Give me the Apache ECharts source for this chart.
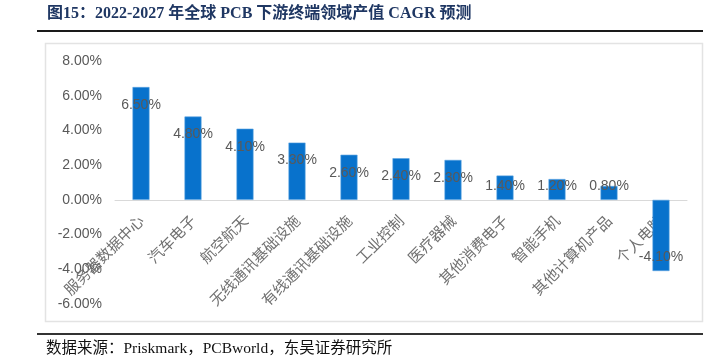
<!DOCTYPE html>
<html><head><meta charset="utf-8">
<script src="https://cdn.jsdelivr.net/npm/echarts@6/dist/echarts.min.js"></script>
<style>html,body{margin:0;padding:0;background:#fff}#c{width:719px;height:360px}</style>
</head><body><div id="c"></div>
<script>
const titleText = '图15：2022-2027 年全球 PCB 下游终端领域产值 CAGR 预测';
const sourceText = '数据来源：Priskmark，PCBworld，东吴证券研究所';
const categories = ['服务器数据中心','汽车电子','航空航天','无线通讯基础设施','有线通讯基础设施','工业控制','医疗器械','其他消费电子','智能手机','其他计算机产品','个人电脑'];
const values = [6.5, 4.8, 4.1, 3.3, 2.6, 2.4, 2.3, 1.4, 1.2, 0.8, -4.1];
const yTicks = [-6, -4, -2, 0, 2, 4, 6, 8];

const W = 719, H = 360;
const grid = {left:115, right:32, top:61, bottom:56};
const yMin = yTicks[0], yMax = yTicks[yTicks.length - 1];
const plotH = H - grid.top - grid.bottom;
// move the category axis (line + labels) up to the zero value of the value axis
const zeroOffset = -(0 - yMin) / (yMax - yMin) * plotH;

const chart = echarts.init(document.getElementById('c'), null, {renderer:'canvas'});
const data = values.map(v => {
  let label;
  if (v < 0) label = {position:'insideBottom', distance:7};
  else if (v < 1.5) label = {position:'insideBottom', distance:7};
  else label = {position:'insideTop', distance:11};
  return {value:v, label};
});
chart.setOption({
  animation:false,
  graphic:[
    {type:'text', left:47, top:6, style:{text:titleText, font:'bold 16px "Liberation Serif","Noto Sans CJK SC"', fill:'#1f3763'}},
    {type:'rect', shape:{x:37, y:30, width:666, height:2}, style:{fill:'#1a1a1a'}},
    {type:'rect', shape:{x:45.5, y:43.5, width:657, height:278}, style:{fill:'none', stroke:'#e3e3e3', lineWidth:1.5}},
    {type:'rect', shape:{x:37, y:333, width:666, height:2}, style:{fill:'#333'}},
    {type:'text', left:46, top:341, style:{text:sourceText, font:'15.5px "Liberation Serif","Noto Sans CJK SC"', fill:'#111'}}
  ],
  grid:Object.assign({containLabel:false, outerBoundsMode:'none'}, grid),
  xAxis:{
    type:'category', data:categories, offset:zeroOffset,
    axisLine:{onZero:false, lineStyle:{color:'#d9d9d9', width:1}},
    axisTick:{show:false},
    axisLabel:{rotate:45, interval:0, margin:18, color:'#707070', fontSize:15, fontFamily:'"Noto Sans CJK SC"'}
  },
  yAxis:{
    type:'value', min:yMin, max:yMax, interval:2,
    splitLine:{show:false}, axisLine:{show:false}, axisTick:{show:false},
    axisLabel:{margin:13, color:'#595959', fontSize:14, fontFamily:'"Liberation Sans", Arial',
      formatter: v => v.toFixed(2) + '%'}
  },
  series:[{
    type:'bar', data:data, barWidth:17, z:1,
    itemStyle:{color:'#0872cc', borderColor:'#5aa2e0', borderWidth:0.6},
    label:{show:true, color:'#595959', fontSize:14, fontFamily:'"Liberation Sans", Arial',
      formatter: p => p.value.toFixed(2) + '%'}
  }]
});
</script></body></html>
